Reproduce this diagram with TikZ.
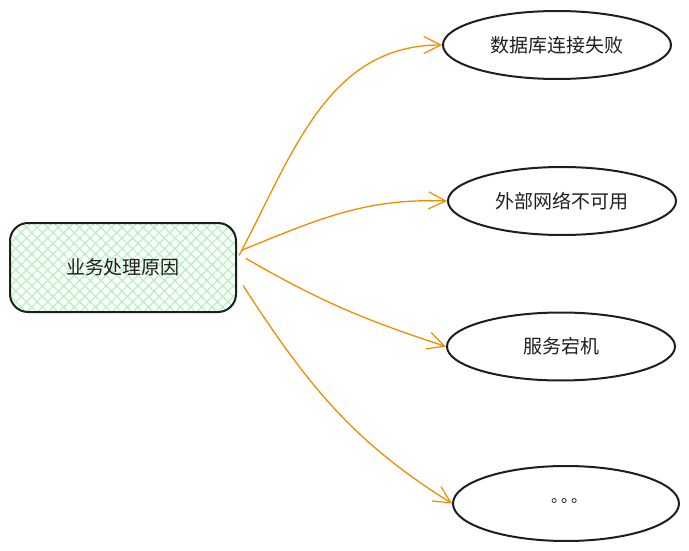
\documentclass[tikz,border=0pt]{standalone}
\usepackage{fontspec}
\setmainfont{Noto Sans CJK SC}
\usetikzlibrary{shapes.geometric,arrows.meta,patterns.meta}
\definecolor{ink}{HTML}{1E1E1E}
\definecolor{hatch}{HTML}{B2F2BB}
\definecolor{link}{HTML}{F08C00}
\begin{document}
\begin{tikzpicture}[x=1pt, y=-1pt,
	 font=\fontsize{19pt}{21pt}\selectfont,
	 every node/.style={text=ink}]
	 
	 % styles of the boxes and arrows
	 \tikzstyle{causebox}=[draw=ink, line width=2pt, rounded corners=18pt, minimum width=226pt, minimum height=89pt,
	 	 preaction={pattern={Lines[angle=45,distance=7.5pt,line width=1.2pt]}, pattern color=hatch},
	 	 preaction={pattern={Lines[angle=-45,distance=7.5pt,line width=1.2pt]}, pattern color=hatch}]
	 \tikzstyle{reason}=[ellipse, draw=ink, line width=2pt, minimum width=228pt, minimum height=68pt, inner sep=0pt]
	 \tikzstyle{link}=[draw=link, line width=1.3pt, -{Straight Barb[length=17pt,width=17pt,line width=1.2pt]}]
	 
	 \useasboundingbox (0,0) rectangle (689,551);
	 
	 \node [causebox] (cause) at (123,267.5) {业务处理原因};
	 
	 \node [reason] (db) at (557,45) {数据库连接失败};
	 \node [reason] (net) at (562,201) {外部网络不可用};
	 \node [reason] (down) at (561,346.5) {服务宕机};
	 \node [reason, minimum width=226pt, minimum height=75pt] (more) at (566,503.5)
	 	 {\raisebox{6pt}{\fontsize{16pt}{18pt}\selectfont 。\kern-6pt。\kern-6pt。}\kern-6pt};
	 
	 \draw [link] ([xshift=2pt,yshift=12pt]cause.east) to[out=62,in=180] (db.west);
	 \draw [link] ([xshift=4pt,yshift=17pt]cause.east) to[out=22,in=178] (net.west);
	 \draw [link] ([xshift=9pt,yshift=9pt]cause.east) to[out=-30,in=162] (down.west);
	 \draw [link] ([xshift=6pt,yshift=-18pt]cause.east) to[out=-57,in=148] (more.west);
	 
\end{tikzpicture}
\end{document}
